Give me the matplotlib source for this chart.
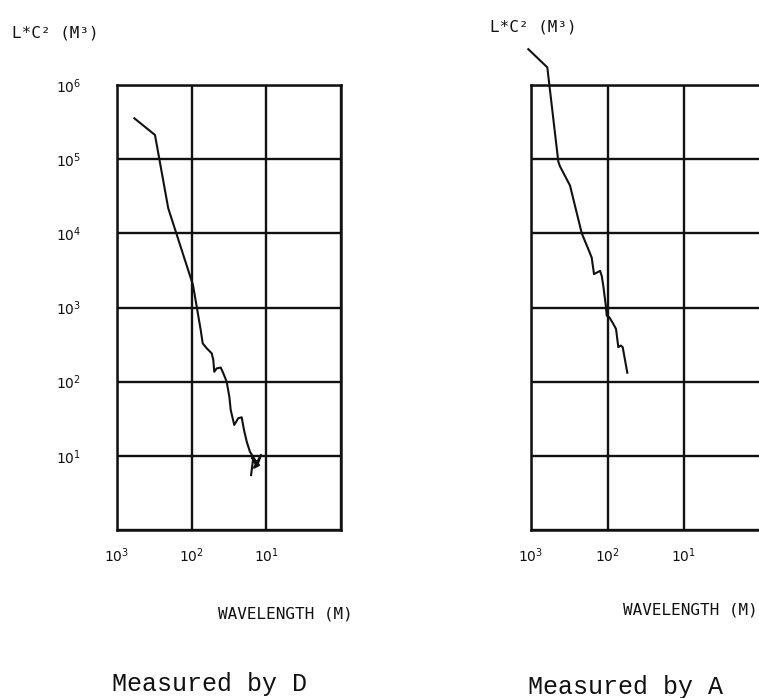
import matplotlib
matplotlib.use("Agg")
import matplotlib.pyplot as plt
from matplotlib.ticker import FixedLocator, FixedFormatter, NullLocator

# ---------------- data ----------------
# Left panel: Measured by D  (wavelength in m, L*C^2 in m^3)
wavelength_d = [586, 310, 206, 96, 75.7, 71.2, 62.9, 53.9, 51.3, 49.8, 46.2, 40.8,
                37.7, 34.0, 31.3, 30.0, 26.9, 23.8, 21.4, 19.9, 18.3, 16.6,
                13.7, 15.6, 12.5, 14.6, 11.8, 13.3, 15.1, 16.0]
lc2_d = [3.56e5, 2.12e5, 2.18e4, 2.01e3, 498, 329, 282, 241, 196, 136, 151, 155,
         130, 100, 62.8, 41.5, 26.1, 32.1, 33.1, 22.3, 15.5, 11.4,
         8.3, 9.4, 7.5, 6.9, 10.3, 7.3, 8.8, 5.5]

# Right panel: Measured by A
wavelength_a = [1084, 612, 440, 418, 309, 217, 178, 161, 150, 125, 119, 113.5,
                104.6, 102.4, 94.7, 84, 77.4, 72.2, 67.2, 63.3, 55.1]
lc2_a = [3.04e6, 1.73e6, 9.33e4, 8.0e4, 4.41e4, 1.0e4, 6.1e3, 4.72e3, 2.82e3,
         3.12e3, 2.67e3, 1.96e3, 1.01e3, 776, 738, 601, 514, 292, 307, 292, 132]

x_tick_values = [1000, 100, 10, 1]
x_tick_labels = [r"$10^{3}$", r"$10^{2}$", r"$10^{1}$", ""]
y_tick_values = [1, 10, 100, 1000, 1e4, 1e5, 1e6]
y_tick_labels = ["", r"$10^{1}$", r"$10^{2}$", r"$10^{3}$", r"$10^{4}$", r"$10^{5}$", r"$10^{6}$"]

y_axis_title = "L*C² (M³)"
x_axis_title = "WAVELENGTH (M)"
panel_titles = ["Measured by D", "Measured by A"]

# ---------------- figure ----------------
W, H = 759, 698
fig = plt.figure(figsize=(W / 100, H / 100), dpi=100)
ink = "#111111"


def px(x0, y0, x1, y1):
    return [x0 / W, 1 - y1 / H, (x1 - x0) / W, (y1 - y0) / H]


ax_d = fig.add_axes(px(117, 85, 341, 530))
ax_a = fig.add_axes(px(531, 85, 760.5, 530))

for ax, xs, ys, show_y in [(ax_d, wavelength_d, lc2_d, True),
                           (ax_a, wavelength_a, lc2_a, False)]:
    ax.set_xscale("log")
    ax.set_yscale("log")
    ax.set_xlim(1000, 1)
    ax.set_ylim(1, 1e6)
    ax.xaxis.set_major_locator(FixedLocator(x_tick_values))
    ax.xaxis.set_major_formatter(FixedFormatter(x_tick_labels))
    ax.xaxis.set_minor_locator(NullLocator())
    ax.yaxis.set_major_locator(FixedLocator(y_tick_values))
    if show_y:
        ax.yaxis.set_major_formatter(FixedFormatter(y_tick_labels))
    else:
        ax.yaxis.set_major_formatter(FixedFormatter([""] * len(y_tick_values)))
    ax.yaxis.set_minor_locator(NullLocator())
    ax.grid(True, which="major", color=ink, linewidth=1.7)
    ax.tick_params(axis="both", length=0, labelsize=10, colors=ink)
    ax.tick_params(axis="x", pad=12)
    ax.tick_params(axis="y", pad=26)
    for s in ax.spines.values():
        s.set_linewidth(1.8)
        s.set_color(ink)
    ax.plot(xs, ys, color=ink, linewidth=1.5, clip_on=False, zorder=5)

mono = "DejaVu Sans Mono"
fig.text(12 / W, 1 - 33 / H, y_axis_title, family=mono, fontsize=11.5,
         ha="left", va="center", color=ink)
fig.text(490 / W, 1 - 27 / H, y_axis_title, family=mono, fontsize=11.5,
         ha="left", va="center", color=ink)
fig.text(218 / W, 1 - 614 / H, x_axis_title, family=mono, fontsize=11.5,
         ha="left", va="center", color=ink)
fig.text(623 / W, 1 - 610 / H, x_axis_title, family=mono, fontsize=11.5,
         ha="left", va="center", color=ink)
fig.text(209 / W, 1 - 684 / H, panel_titles[0], family="Liberation Mono", fontsize=18,
         ha="center", va="center", color=ink)
fig.text(626 / W, 1 - 687 / H, panel_titles[1], family="Liberation Mono", fontsize=18,
         ha="center", va="center", color=ink)

fig.savefig("out.png", dpi=100)
